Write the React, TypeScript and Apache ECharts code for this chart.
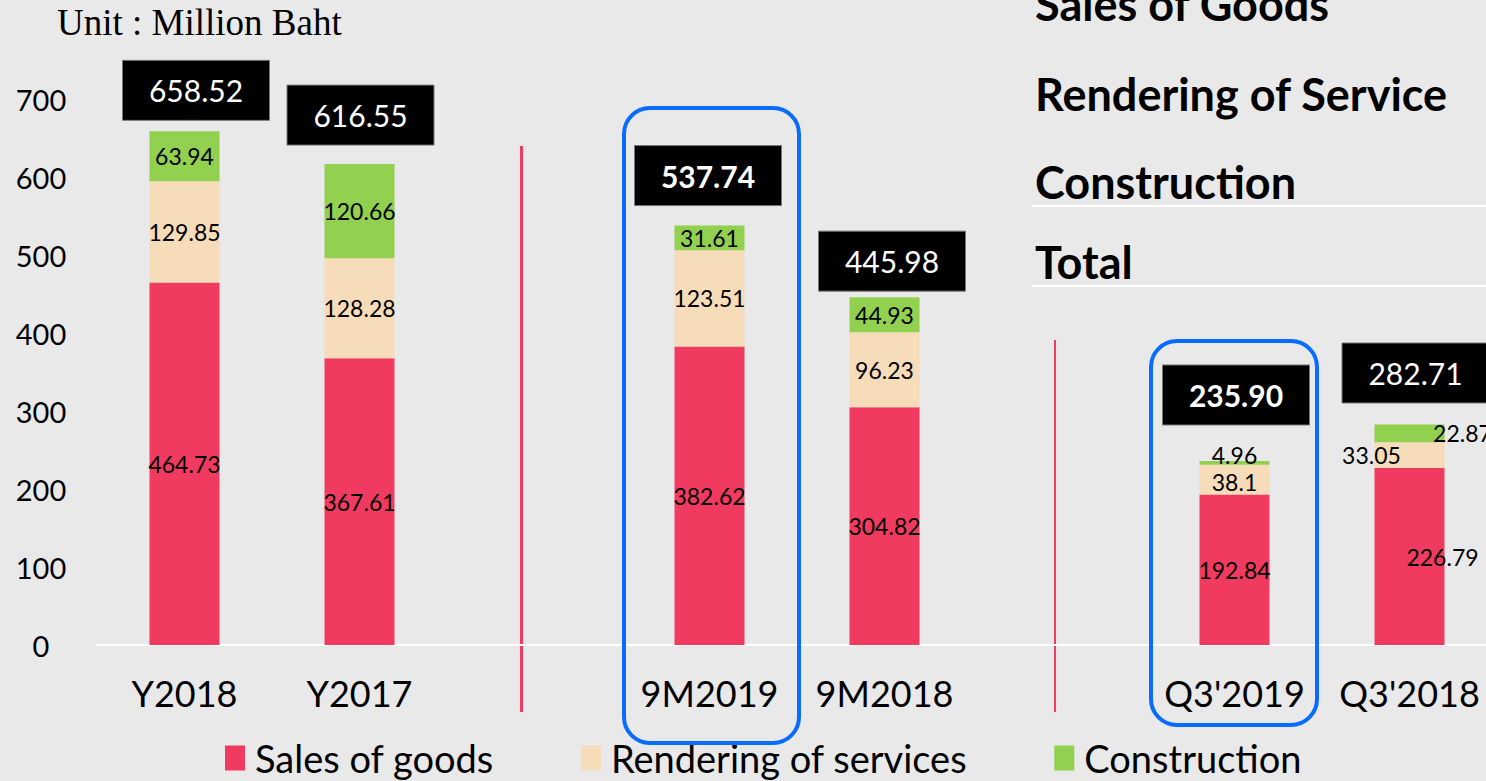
import React, { useEffect, useRef } from "react";
import * as echarts from "echarts";

// ---------- data ----------
const categories = ["Y2018", "Y2017", "", "9M2019", "9M2018", "", "Q3'2019", "Q3'2018"];
const salesOfGoods = [464.73, 367.61, null, 382.62, 304.82, null, 192.84, 226.79];
const renderingOfServices = [129.85, 128.28, null, 123.51, 96.23, null, 38.1, 33.05];
const construction = [63.94, 120.66, null, 31.61, 44.93, null, 4.96, 22.87];
const totals = [658.52, 616.55, null, 537.74, 445.98, null, 235.9, 282.71];
const totalLabels = ["658.52", "616.55", "", "537.74", "445.98", "", "235.90", "282.71"];
const highlighted = [false, false, false, true, false, false, true, false];
const seriesNames = ["Sales of goods", "Rendering of services", "Construction"];
const tableRows = ["Sales of Goods", "Rendering of Service", "Construction", "Total"];
const unitText = "Unit : Million Baht";
const yMin = 0;
const yMax = 700;
const yInterval = 100;

// ---------- layout (label nudges, px) ----------
const salesLabelDx = [0, 0, 0, 0, 0, 0, 0, 33];
const serviceLabelDx = [0, 0, 0, 0, 0, 0, 0, -38];
const serviceLabelDy = [0, 0, 0, 0, 0, 0, 2, 0];
const constructionLabelDx = [0, 0, 0, 0, 0, 0, 0, 53];
const constructionLabelDy = [0, 0, 0, 0, 0, 0, -8, 0];
const boxDx = [11.5, 1, 0, -1.5, 7.5, 0, 1.5, 6];
const boxGap = [11, 19, 0, 20, 6, 0, 36, 21.5];
const tableRowY = [4, 94, 182, 262];

const COLORS = ["#f03a5f", "#f7dcb9", "#92d050"];
const FONT = "Lato, 'Noto Sans', sans-serif";

function segData(values: (number | null)[], dx: number[], dy?: number[]) {
  return values.map((v, i) =>
    v == null
      ? "-"
      : {
          value: v,
          label: { offset: [dx[i], dy ? dy[i] : 0] },
        }
  );
}

export default function App() {
  const ref = useRef<HTMLDivElement>(null);

  useEffect(() => {
    if (!ref.current) return;
    const chart = echarts.init(ref.current, undefined, { renderer: "svg" });

    const segLabel = {
      show: true,
      position: "inside" as const,
      color: "#000",
      fontSize: 23,
      fontFamily: FONT,
    };

    const totalData = totals
      .map((t, i) => (t == null ? null : { value: [i, t] }))
      .filter((d) => d != null);

    const option: any = {
      animation: false,
      backgroundColor: "#e9e9e9",
      grid: { left: 97, top: 99, width: 1400, height: 546 },
      legend: {
        left: 220,
        top: 734,
        itemWidth: 20,
        itemHeight: 25,
        itemGap: 87,
        icon: "rect",
        textStyle: { fontSize: 38, fontFamily: FONT, color: "#000", padding: [0, 0, 0, 5] },
        data: seriesNames,
      },
      xAxis: {
        type: "category",
        data: categories,
        axisLine: { show: true, lineStyle: { color: "#ffffff", width: 2 } },
        axisTick: { show: false },
        axisLabel: { fontSize: 36, fontFamily: FONT, color: "#000", margin: 30, interval: 0 },
        splitLine: { show: false },
      },
      yAxis: {
        type: "value",
        min: yMin,
        max: yMax,
        interval: yInterval,
        axisLine: { show: false },
        axisTick: { show: false },
        splitLine: { show: false },
        axisLabel: { fontSize: 29, fontFamily: FONT, color: "#000", margin: 56, align: "center" },
      },
      series: [
        {
          name: seriesNames[0],
          type: "bar",
          stack: "total",
          barWidth: 70,
          itemStyle: { color: COLORS[0] },
          label: segLabel,
          data: segData(salesOfGoods, salesLabelDx),
        },
        {
          name: seriesNames[1],
          type: "bar",
          stack: "total",
          barWidth: 70,
          itemStyle: { color: COLORS[1] },
          label: segLabel,
          data: segData(renderingOfServices, serviceLabelDx, serviceLabelDy),
        },
        {
          name: seriesNames[2],
          type: "bar",
          stack: "total",
          barWidth: 70,
          itemStyle: { color: COLORS[2] },
          label: segLabel,
          data: segData(construction, constructionLabelDx, constructionLabelDy),
        },
        {
          name: "Total",
          type: "custom",
          z: 10,
          encode: { x: 0, y: 1 },
          data: totalData,
          renderItem: (params: any, api: any) => {
            const i = api.value(0);
            const v = api.value(1);
            const p = api.coord([i, v]);
            const cx = p[0] + boxDx[i];
            const bottom = p[1] - boxGap[i];
            return {
              type: "group",
              children: [
                {
                  type: "rect",
                  shape: { x: cx - 73.5, y: bottom - 60, width: 147, height: 60 },
                  style: { fill: "#000", stroke: "#777", lineWidth: 1 },
                },
                {
                  type: "text",
                  style: {
                    text: totalLabels[i],
                    x: cx,
                    y: bottom - 30,
                    align: "center",
                    verticalAlign: "middle",
                    fill: "#fff",
                    fontSize: 30,
                    fontFamily: FONT,
                    fontWeight: highlighted[i] ? "bold" : "normal",
                  },
                },
              ],
            };
          },
        },
      ],
      graphic: [
        {
          type: "text",
          left: 57,
          top: 4,
          style: {
            text: unitText,
            fontSize: 37,
            fontFamily: "'Liberation Serif', serif",
            fill: "#000",
          },
        },
        ...tableRows.map((t, k) => ({
          type: "text",
          x: 1035,
          y: tableRowY[k],
          style: {
            text: t,
            x: 0,
            y: 0,
            align: "left",
            verticalAlign: "middle",
            fontSize: 45,
            fontWeight: "bold",
            fontFamily: FONT,
            fill: "#000",
          },
        })),
        {
          type: "line",
          shape: { x1: 1032, y1: 206, x2: 1500, y2: 206 },
          style: { stroke: "#ffffff", lineWidth: 2 },
        },
        {
          type: "line",
          shape: { x1: 1032, y1: 286, x2: 1500, y2: 286 },
          style: { stroke: "#ffffff", lineWidth: 2 },
        },
        {
          type: "line",
          shape: { x1: 521.5, y1: 146, x2: 521.5, y2: 712 },
          style: { stroke: "#f03a5f", lineWidth: 3 },
        },
        {
          type: "line",
          shape: { x1: 1055, y1: 340, x2: 1055, y2: 712 },
          style: { stroke: "#f03a5f", lineWidth: 2 },
        },
        {
          type: "rect",
          shape: { x: 624, y: 108, width: 175, height: 635, r: 26 },
          style: { fill: "none", stroke: "#0a6cff", lineWidth: 4 },
          z: 20,
        },
        {
          type: "rect",
          shape: { x: 1151, y: 341, width: 166, height: 384, r: 26 },
          style: { fill: "none", stroke: "#0a6cff", lineWidth: 4 },
          z: 20,
        },
      ],
    };

    chart.setOption(option);
    return () => chart.dispose();
  }, []);

  return (
    <div
      style={{
        position: "absolute",
        left: 0,
        top: 0,
        width: 1486,
        height: 781,
        overflow: "hidden",
      }}
    >
      <div ref={ref} style={{ width: 1500, height: 781 }} />
    </div>
  );
}
